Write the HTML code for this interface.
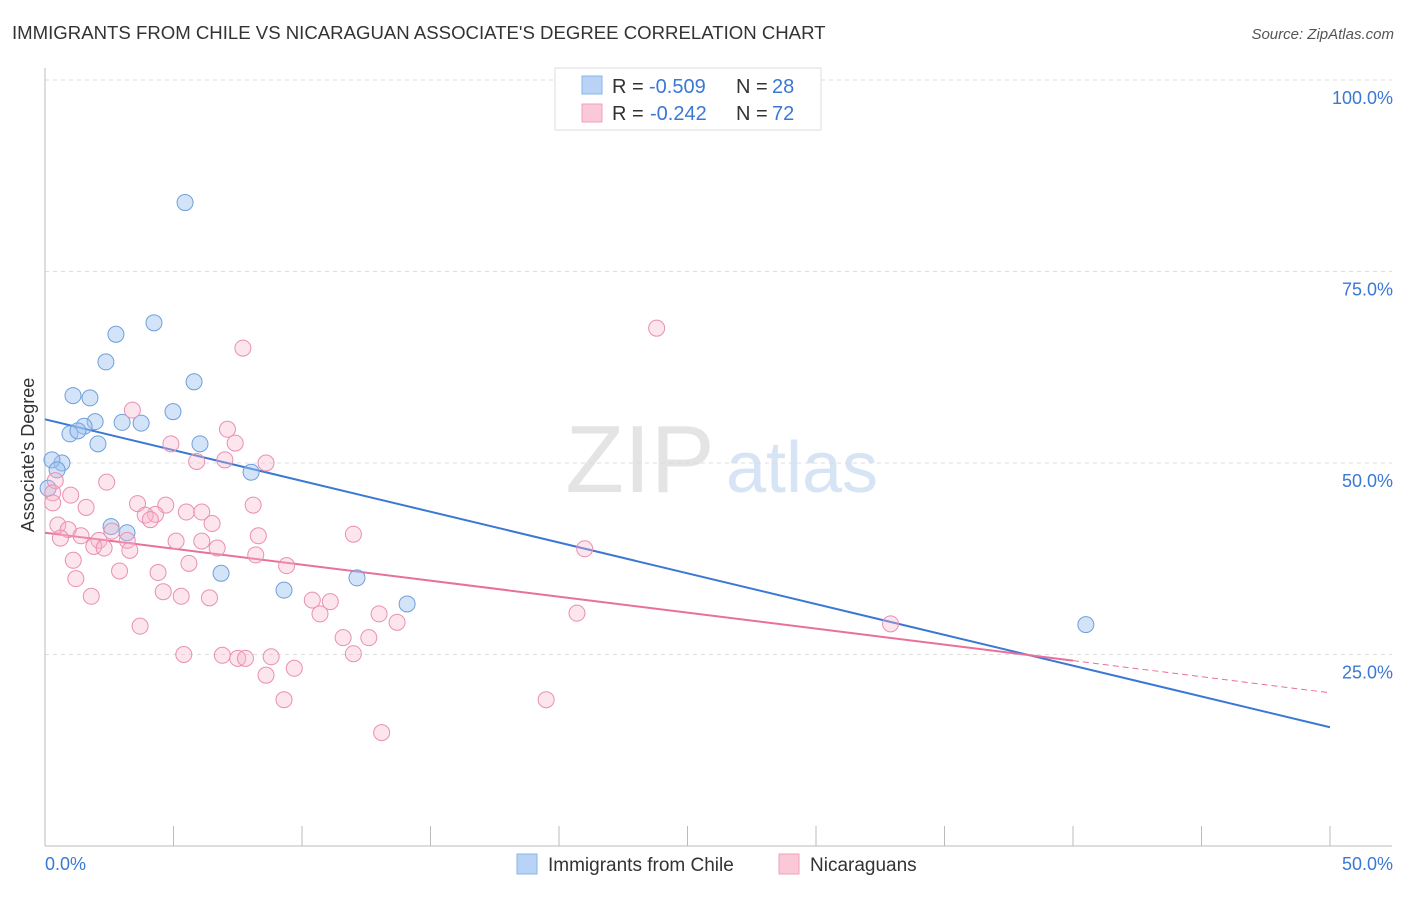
<!DOCTYPE html>
<html><head><meta charset="utf-8"><style>
body{margin:0;background:#fff;font-family:"Liberation Sans",sans-serif;}
svg text{font-family:"Liberation Sans",sans-serif;}
</style></head><body>
<svg id="chart" width="1406" height="892">
<text x="12" y="39" font-size="18.6" fill="#333">IMMIGRANTS FROM CHILE VS NICARAGUAN ASSOCIATE'S DEGREE CORRELATION CHART</text>
<text x="1394" y="39" font-size="15" fill="#555" font-style="italic" text-anchor="end">Source: ZipAtlas.com</text>
<text x="640" y="492" font-size="96" fill="#e4e4e4" font-family="Liberation Serif" text-anchor="middle">ZIP</text>
<text x="802" y="492" font-size="72" fill="#d6e4f5" text-anchor="middle">atlas</text>
<g id="grid"></g><g id="axes"></g><g id="lines"></g><g id="pts"></g>
<text transform="translate(34,455) rotate(-90)" font-size="18" fill="#333" text-anchor="middle">Associate's Degree</text>
<g>
<rect x="555" y="68" width="266" height="62" fill="#fff" stroke="#ddd"/>
<rect x="582" y="76" width="20" height="18" fill="#b8d3f5" stroke="#8ab3e6"/>
<text x="612" y="93" font-size="20" fill="#333">R =</text>
<text x="649" y="93" font-size="20" fill="#3a78d4">-0.509</text>
<text x="736" y="93" font-size="20" fill="#333">N =</text>
<text x="772" y="93" font-size="20" fill="#3a78d4">28</text>
<rect x="582" y="104" width="20" height="18" fill="#fbc8d8" stroke="#f0a0bb"/>
<text x="612" y="120" font-size="20" fill="#333">R =</text>
<text x="650" y="120" font-size="20" fill="#3a78d4">-0.242</text>
<text x="736" y="120" font-size="20" fill="#333">N =</text>
<text x="772" y="120" font-size="20" fill="#3a78d4">72</text>
</g>
<g>
<rect x="517" y="854" width="20" height="20" fill="#b8d3f5" stroke="#8ab3e6"/>
<text x="548" y="871" font-size="19" fill="#333">Immigrants from Chile</text>
<rect x="779" y="854" width="20" height="20" fill="#fbc8d8" stroke="#f0a0bb"/>
<text x="810" y="871" font-size="19" fill="#333">Nicaraguans</text>
</g>
</svg>
<script>
const blueX=[5.45,4.24,2.76,2.37,5.80,1.09,1.75,4.98,1.95,3.0,3.74,1.52,0.97,1.28,2.06,6.03,0.66,0.27,0.47,8.02,0.12,2.57,3.19,6.85,9.3,12.14,14.09,40.5];
const blueY=[84.0,68.3,66.8,63.2,60.6,58.8,58.5,56.7,55.4,55.3,55.2,54.8,53.8,54.2,52.5,52.5,50.0,50.4,49.1,48.8,46.7,41.7,40.9,35.6,33.4,35.0,31.6,28.9];
const pinkX=[23.8,7.7,3.4,7.1,7.4,4.9,5.9,7.0,8.6,2.4,0.4,0.3,1.0,0.3,3.6,4.7,8.1,1.6,5.5,6.1,4.3,3.9,4.1,6.5,0.5,0.9,2.6,1.4,8.3,12.0,3.2,2.1,5.1,6.1,0.6,1.9,2.3,3.3,6.7,8.2,1.1,5.6,9.4,2.9,4.4,1.2,4.6,5.3,6.4,1.8,10.4,11.1,10.7,13.0,13.7,20.7,32.9,21.0,3.7,11.6,12.6,5.4,6.9,7.5,7.8,8.8,12.0,9.7,8.6,9.3,19.5,13.1];
const pinkY=[67.6,65.0,56.9,54.4,52.6,52.5,50.2,50.4,50.0,47.5,47.7,46.1,45.8,44.8,44.7,44.5,44.5,44.2,43.6,43.6,43.3,43.2,42.6,42.1,41.9,41.3,41.1,40.5,40.5,40.7,39.9,39.9,39.8,39.8,40.2,39.1,38.9,38.6,38.9,38.0,37.3,36.9,36.6,35.9,35.7,34.9,33.2,32.6,32.4,32.6,32.1,31.9,30.3,30.3,29.2,30.4,29.0,38.8,28.7,27.2,27.2,25.0,24.9,24.5,24.5,24.7,25.1,23.2,22.3,19.1,19.1,14.8];
const xTicks=[0,5,10,15,20,25,30,35,40,45,50];
const yTicks=[25,50,75,100];
const yLabels=["25.0%","50.0%","75.0%","100.0%"];
const blueTrend=[55.7,15.5];
const pinkTrend=[40.9,24.2,20.0];
const X=v=>45+v*25.7, Y=v=>846-v*7.66;
const NS="http://www.w3.org/2000/svg";
function mk(p,t,a){const e=document.createElementNS(NS,t);for(const k in a)e.setAttribute(k,a[k]);document.getElementById(p).appendChild(e);return e;}
yTicks.forEach((t,i)=>{
 const l=mk('grid','line',{x1:45,x2:1392,y1:Y(t),y2:Y(t),stroke:'#ddd','stroke-dasharray':'4,4'});
 
 
 const tx=mk('grid','text',{x:1393,y:Y(t)+24,'font-size':18,fill:'#3a78d4','text-anchor':'end'});
 tx.textContent=yLabels[i];
 
 
});
mk('axes','line',{x1:45,x2:45,y1:68,y2:846,stroke:'#bbb'});
mk('axes','line',{x1:45,x2:1392,y1:846,y2:846,stroke:'#bbb'});
xTicks.forEach(t=>{const l=mk('axes','line',{x1:X(t),x2:X(t),y1:826,y2:846,stroke:'#bbb'});
 
 });
let a=mk('axes','text',{x:45,y:870,'font-size':18,fill:'#3a78d4'});a.textContent='0.0%';


a=mk('axes','text',{x:1393,y:870,'font-size':18,fill:'#3a78d4','text-anchor':'end'});a.textContent='50.0%';


blueX.forEach((v,i)=>{const c=mk('pts','circle',{cx:X(v),cy:Y(blueY[i]),r:8,fill:'rgba(160,196,240,0.45)',stroke:'#6f9fdc','stroke-width':1});
 
 });
pinkX.forEach((v,i)=>{const c=mk('pts','circle',{cx:X(v),cy:Y(pinkY[i]),r:8,fill:'rgba(248,180,204,0.35)',stroke:'#e890b0','stroke-width':1});
 
 });
let t=mk('lines','line',{x1:X(0),y1:Y(blueTrend[0]),x2:X(50),y2:Y(blueTrend[1]),stroke:'#3a78d4','stroke-width':2});


t=mk('lines','line',{x1:X(0),y1:Y(pinkTrend[0]),x2:X(40),y2:Y(pinkTrend[1]),stroke:'#e8709a','stroke-width':2});


t=mk('lines','line',{x1:X(40),y1:Y(pinkTrend[1]),x2:X(50),y2:Y(pinkTrend[2]),stroke:'#e8709a','stroke-width':1,'stroke-dasharray':'6,4'});


</script>
</body></html>
